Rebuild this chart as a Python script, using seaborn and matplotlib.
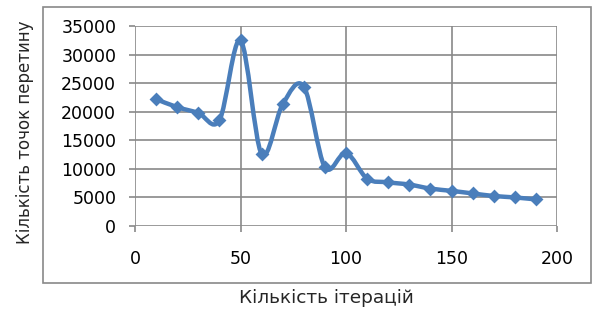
import matplotlib
matplotlib.use("Agg")
import matplotlib.pyplot as plt
import numpy as np
import pandas as pd
import seaborn as sns
from matplotlib.path import Path
from matplotlib.patches import PathPatch, Rectangle

# values
iterations = [10, 20, 30, 40, 50, 60, 70, 80, 90, 100,
              110, 120, 130, 140, 150, 160, 170, 180, 190]
points = [22200, 20800, 19800, 18500, 32500, 12600, 21300, 24400, 10300, 12800,
          8300, 7650, 7250, 6550, 6150, 5700, 5250, 5000, 4650]
x_ticks = [0, 50, 100, 150, 200]
y_ticks = [0, 5000, 10000, 15000, 20000, 25000, 30000, 35000]

BLUE = "#4a7ebb"
GRID = "#898989"

sns.set_theme(style="white")
plt.rcParams["font.family"] = ["DejaVu Sans"]

df = pd.DataFrame({"iter": iterations, "points": points})

fig = plt.figure(figsize=(5.93, 3.13), dpi=100)
ax = fig.add_axes([135 / 593, 1 - 226 / 313, 422 / 593, 200 / 313])

# chart-area frame like the spreadsheet export
fig.patches.append(Rectangle((43 / 593, 1 - 283 / 313), 548 / 593, 276 / 313,
                             transform=fig.transFigure, fill=False,
                             edgecolor=GRID, linewidth=1.2))

# smoothed line, spreadsheet style (Bezier through the points)
xy = df[["iter", "points"]].to_numpy(dtype=float)
verts = [tuple(xy[0])]
codes = [Path.MOVETO]
n = len(xy)
for i in range(n - 1):
    p0 = xy[max(i - 1, 0)]
    p1 = xy[i]
    p2 = xy[i + 1]
    p3 = xy[min(i + 2, n - 1)]
    c1 = p1 + (p2 - p0) / 6
    c2 = p2 - (p3 - p1) / 6
    verts += [tuple(c1), tuple(c2), tuple(p2)]
    codes += [Path.CURVE4] * 3
ax.add_patch(PathPatch(Path(verts, codes), facecolor="none", edgecolor=BLUE,
                       linewidth=3.2, capstyle="round", joinstyle="round", zorder=3))

sns.scatterplot(data=df, x="iter", y="points", marker="D", s=50, color=BLUE,
                edgecolor=BLUE, linewidth=0, ax=ax, zorder=4)

ax.set_xlim(0, 200)
ax.set_ylim(0, 35000)
ax.set_xticks(x_ticks)
ax.set_yticks(y_ticks)
ax.grid(True, color=GRID, linewidth=1.2)
ax.set_axisbelow(True)
for s in ax.spines.values():
    s.set_visible(False)
ax.tick_params(axis="both", which="both", length=4, width=1.2, color=GRID,
               labelsize=12.5, labelcolor="black", direction="out")
ax.tick_params(axis="x", pad=13)
ax.tick_params(axis="y", pad=9.5)
ax.xaxis.set_ticks_position("bottom")
ax.yaxis.set_ticks_position("left")

ax.set_xlabel("")
ax.set_ylabel("")
fig.text(326 / 593, 1 - 298 / 313, "Кількість ітерацій", ha="center", va="center",
         fontsize=13.3)
fig.text(25 / 593, 1 - 132 / 313, "Кількість точок перетину", ha="center",
         va="center", rotation=90, fontsize=12)

fig.savefig("out.png", dpi=100)
